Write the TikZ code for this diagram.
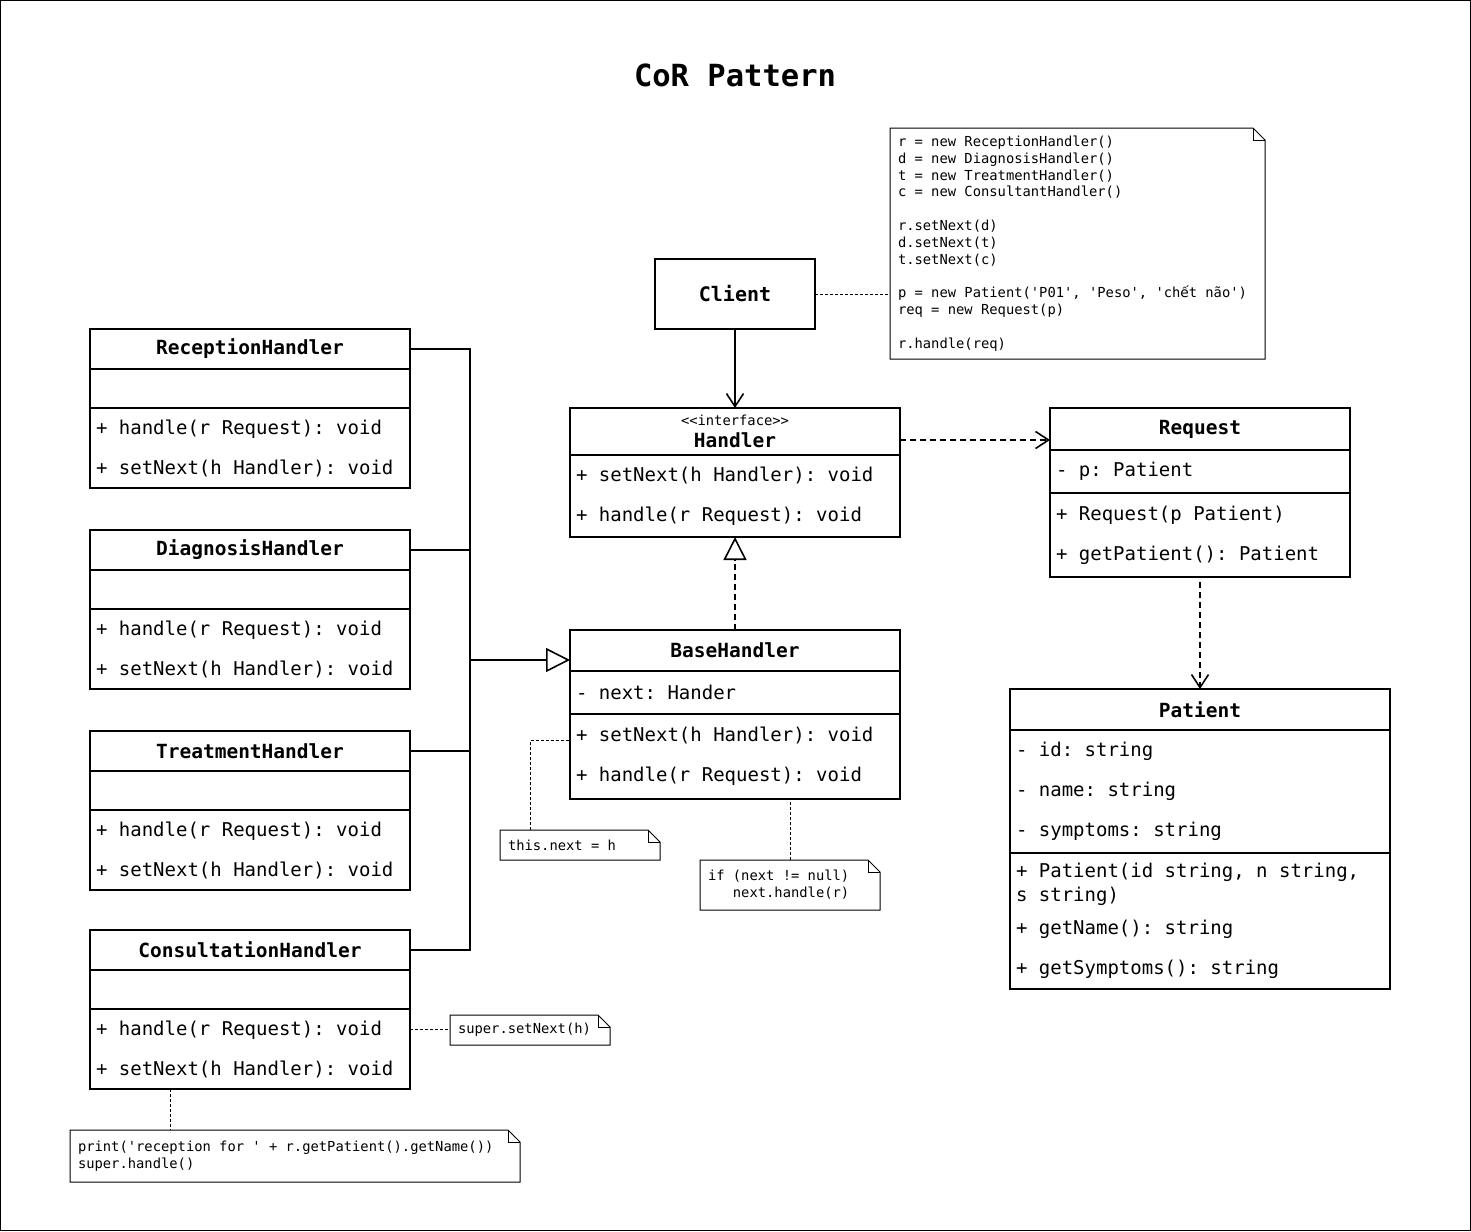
\documentclass[tikz,border=0pt]{standalone}
\usepackage{fontspec}
\setmonofont{DejaVu Sans Mono}
\newfontfamily\vietfont{DejaVu Sans}
\usetikzlibrary{positioning,arrows.meta}

% outline of a note with folded corner
\newcommand{\notefold}[1]{%
  \draw[notebox] (#1.south west) -- (#1.north west) -- ([xshift=-12pt]#1.north east)
    -- ([yshift=-12pt]#1.north east) -- (#1.south east) -- cycle;
  \draw[notebox] ([xshift=-12pt]#1.north east) |- ([yshift=-12pt]#1.north east);}
% full-width spaces for the mono font
\newcommand{\monosp}{\frenchspacing\spaceskip=0.602em\xspaceskip=0.602em\relax}

\begin{document}
\begin{tikzpicture}[x=1pt,y=-1pt]
\tikzset{
  box/.style={draw, line width=1.6pt, outer sep=0pt, inner xsep=6pt, inner ysep=0pt,
    execute at begin node=\monosp},
  head/.style={box, align=center, font=\ttfamily\bfseries\fontsize{19.5}{22}\selectfont},
  memb/.style={box, align=left, font=\ttfamily\fontsize{19}{40}\selectfont},
  lcls/.style={minimum width=320pt, text width=308pt},
  mcls/.style={minimum width=330pt, text width=318pt},
  rcls/.style={minimum width=300pt, text width=288pt},
  pcls/.style={minimum width=380pt, text width=368pt},
  note/.style={outer sep=0pt, inner xsep=8pt, inner ysep=0pt, align=left,
    font=\ttfamily\fontsize{13.8}{16.8}\selectfont, execute at begin node=\monosp},
  notebox/.style={line width=1pt},
  notelink/.style={line width=1pt, dash pattern=on 3pt off 2pt},
  assoc/.style={line width=1.6pt, -{Straight Barb[length=13pt,width=17pt]}},
  depend/.style={assoc, dash pattern=on 6pt off 4pt},
  realize/.style={line width=1.6pt, dash pattern=on 6pt off 4pt,
    -{Triangle[open,length=23pt,width=23pt]}},
  inherit/.style={line width=1.6pt, -{Triangle[open,length=24pt,width=24pt]}}
}
%
\useasboundingbox (0,0) rectangle (1471,1231);
\draw[line width=1pt] (0.5,0.5) rectangle (1470.5,1230.5);

\node (title) at (735,75) {\ttfamily\bfseries\fontsize{30.5}{34}\selectfont\monosp CoR Pattern};

\node[head, minimum width=160pt, minimum height=70pt,
  font=\ttfamily\bfseries\fontsize{20}{22}\selectfont] (client) at (735,294) {Client};

\node[note, minimum width=375pt, minimum height=231pt, text width=359pt] (ncode) at (1077.5,243.5) {%
r = new ReceptionHandler()\\
d = new DiagnosisHandler()\\
t = new TreatmentHandler()\\
c = new ConsultantHandler()\\[16.8pt]
r.setNext(d)\\
d.setNext(t)\\
t.setNext(c)\\[16.8pt]
p = new Patient('P01', 'Peso', 'ch\makebox[0.602em]{\vietfont ế}t não')\\
req = new Request(p)\\[16.8pt]
r.handle(req)};
\notefold{ncode}

% interface and base class
\node[head, mcls, minimum height=47pt] (hh) at (735,431.5)
  {{\mdseries\fontsize{13.8}{14}\selectfont <<interface>>}\\Handler};
\node[memb, mcls, minimum height=82pt, below=0pt of hh] (hm)
  {+ setNext(h Handler): void\\+ handle(r Request): void};

\node[head, mcls, minimum height=41pt] (bhh) at (735,650.5) {BaseHandler};
\node[memb, mcls, minimum height=43pt, below=0pt of bhh] (bha) {- next: Hander};
\node[memb, mcls, minimum height=85pt, below=0pt of bha] (bhm)
  {+ setNext(h Handler): void\\+ handle(r Request): void};

% request and patient
\node[head, rcls, minimum height=42pt] (rqh) at (1200,429) {Request};
\node[memb, rcls, minimum height=43pt, below=0pt of rqh] (rqa) {- p: Patient};
\node[memb, rcls, minimum height=84pt, below=0pt of rqa] (rqm)
  {+ Request(p Patient)\\+ getPatient(): Patient};

\node[head, pcls, minimum height=41pt] (pth) at (1200,709.5) {Patient};
\node[memb, pcls, minimum height=123pt, below=0pt of pth] (pta)
  {- id: string\\- name: string\\- symptoms: string};
\node[memb, pcls, minimum height=136pt, below=0pt of pta,
  font=\ttfamily\fontsize{19}{24}\selectfont] (ptm)
  {+ Patient(id string, n string,\\s string)\\[9pt]+ getName(): string\\[16pt]+ getSymptoms(): string};

% concrete handlers
\coordinate (join) at (470,660);
\foreach \nm/\cl/\y in {rh/ReceptionHandler/349, dh/DiagnosisHandler/550,
                        th/TreatmentHandler/751, ch/ConsultationHandler/950}{
  \node[head, lcls, minimum height=40pt] (\nm h) at (250,\y) {\cl};
  \node[memb, lcls, minimum height=39pt, below=0pt of \nm h] (\nm a) {};
  \node[memb, lcls, minimum height=80pt, below=0pt of \nm a] (\nm m)
    {+ handle(r Request): void\\+ setNext(h Handler): void};
  \draw[line width=1.6pt] (\nm h.east) -| (join);
}
\draw[inherit] (join) -- (join -| bhh.west);

\draw[assoc] (client) -- (hh);
\draw[depend] ([yshift=-8.5pt]hh.east) -- ([yshift=-8.5pt]hh.east -| rqh.west);
\draw[depend] ([yshift=-5pt]rqm.south) -- (pth);
\draw[realize] (bhh) -- (hm);

% notes
\node[note, minimum width=160pt, minimum height=30pt, text width=144pt] (nthis) at (580,845) {this.next = h};
\notefold{nthis}
\node[note, minimum width=180pt, minimum height=50pt, text width=164pt] (nif) at (790,885)
  {if (next != null)\\\hphantom{xxx}next.handle(r)};
\notefold{nif}
\node[note, minimum width=160pt, minimum height=30pt, text width=144pt] (nsuper) at (530,1030) {super.setNext(h)};
\notefold{nsuper}
\node[note, minimum width=450pt, minimum height=52pt, text width=434pt] (nprint) at (295,1156)
  {print('reception for ' + r.getPatient().getName())\\super.handle()};
\notefold{nprint}

\draw[notelink] (client.east) -- (client.east -| ncode.west);
\draw[notelink] ([xshift=-50pt]nthis.north) |- ([yshift=16pt]bhm.west);
\draw[notelink] (nif.north) -- (nif.north |- bhm.south);
\draw[notelink] ([yshift=20pt]chm.east) -- ([yshift=20pt]chm.east -| nsuper.west);
\draw[notelink] ([xshift=-80pt]chm.south) -- ([xshift=-80pt]chm.south |- nprint.north);
\end{tikzpicture}
\end{document}
